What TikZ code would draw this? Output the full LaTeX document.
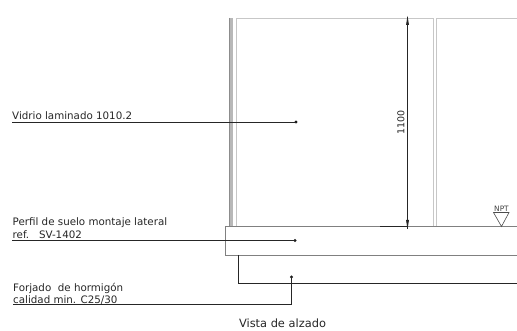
\documentclass[tikz,border=0pt]{standalone}
\usepackage{fontspec}
\setmainfont{DejaVu Sans}
\begin{document}
\begin{tikzpicture}[x=1pt,y=-1pt,
  lead/.style={draw=black!85,line width=0.8pt},
  glass/.style={draw=black!22,line width=1pt},
  base/.style={draw=black!50,line width=0.8pt},
  dotmark/.style={circle,fill=black!90,inner sep=0pt,minimum size=3.2pt},
  lbl/.style={inner sep=0pt,font=\fontsize{10.3}{12}\selectfont,text=black!85,anchor=base west},
  dimtip/.style={fill=black!85,draw=none}]
\useasboundingbox (0,0) rectangle (517,331);
% glass profile and panels
\fill[black!28] (229,18) rectangle (233,226);
\draw[black!45,line width=0.5pt] (229,18) -- (229,226);
\draw[glass] (236,226) -- (236,18.5) -- (433.5,18.5) -- (433.5,226);
\draw[glass] (436.5,226) -- (436.5,18.5) -- (517,18.5);
% base profile
\draw[base] (517,226) -- (225,226) -- (225,255) -- (517,255);
% slab
\coordinate (slabtop) at (238.5,255);
\coordinate (slabcorner) at (238.5,283);
\coordinate (slabend) at (517,283);
\draw[lead] (slabtop) -- (slabcorner) -- (slabend);
% leaders
\node[dotmark] (d1) at (296,122) {};
\node[dotmark] (d2) at (295,240.5) {};
\node[dotmark] (d3) at (291.5,277) {};
\coordinate (l1) at (12,122);
\coordinate (l2) at (12,240.5);
\coordinate (l3) at (13,304.5);
\coordinate (l3c) at (291.5,304.5);
\draw[lead] (l1) -- (d1.center);
\draw[lead] (l2) -- (d2.center);
\draw[lead] (l3) -- (l3c) -- (d3.center);
% dimension
\coordinate (dimt) at (407.5,17);
\coordinate (dimb) at (407.5,229);
\coordinate (dimf) at (380,226.5);
\draw[lead] (dimt) -- (dimb);
\draw[lead] (dimf) -- (407.5,226.5);
\fill[dimtip] (407.5,16) -- (406,25) -- (409,25) -- cycle;
\fill[dimtip] (407.5,229) -- (406,220) -- (409,220) -- cycle;
\node[lbl,anchor=center,rotate=90,font=\fontsize{9.5}{11}\selectfont] (dimtxt) at (401,122.5) {1100};
% NPT
\draw[draw=black!70,line width=0.6pt] (493.5,212.5) -- (509,212.5) -- (501.5,226.5) -- cycle;
\node[inner sep=0pt,font=\fontsize{7.4}{8}\selectfont,text=black!75] (npt) at (501.5,208.5) {NPT};
% texts
\node[lbl] (t1) at (12,120) {Vidrio laminado 1010.2};
\node[lbl] (t2a) at (12.5,226) {Perfil de suelo montaje lateral};
\node[lbl] (t2b) at (12.5,239) {ref.\ \ \ SV-1402};
\node[lbl] (t3a) at (13,291) {Forjado\ \ de hormigón};
\node[lbl] (t3b) at (13,304) {calidad min. C25/30};
\node[lbl,anchor=base,font=\fontsize{11.4}{13}\selectfont] (t4) at (282.5,327.5) {Vista de alzado};
\end{tikzpicture}
\end{document}
